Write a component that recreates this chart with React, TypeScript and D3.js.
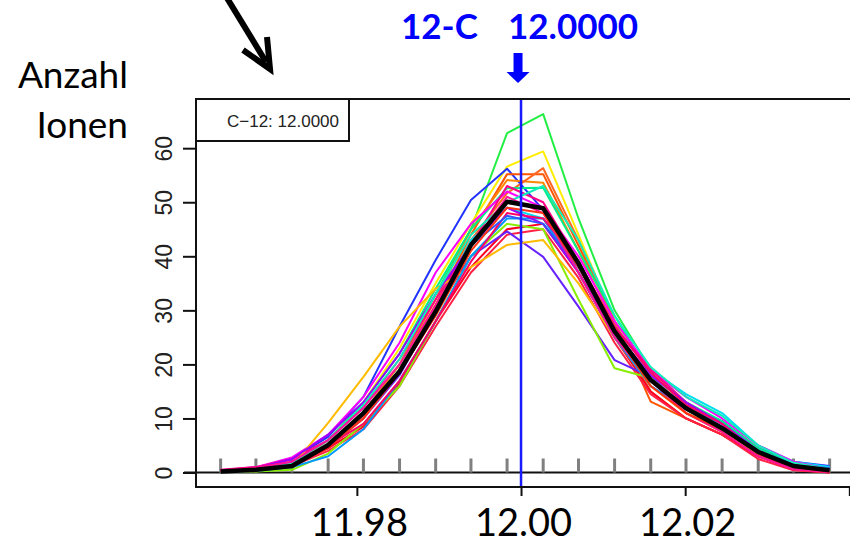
import React, { useEffect, useRef } from 'react';
import * as d3 from 'd3';

// m/z positions of the measured points
const mz = [
  11.9634, 11.9677, 11.9721, 11.9765, 11.9808, 11.9852, 11.9896, 11.9939, 11.9983,
  12.0027, 12.007, 12.0114, 12.0158, 12.0201, 12.0245, 12.0289, 12.0332, 12.0376,
];

const seriesColors = [
  '#22EE44', '#FFEE00', '#2233FF', '#FF5500', '#FF8800', '#FF6622', '#00EE88', '#00DDEE',
  '#FF00FF', '#FF0088', '#FF0022', '#FF2244', '#6622FF', '#88EE00', '#FFBB00', '#0099FF',
  '#9900FF', '#FF0066', '#3355FF', '#11EEBB', '#FF1199', '#FF3311',
];

const seriesValues = [
  [0.1, 0.3, 0.9, 4.8, 11, 20, 33, 45, 62.8, 66.3, 47, 30, 19, 13, 9, 4, 1.4, 0.4],
  [0.2, 0.5, 1.5, 6, 13, 23, 35, 46, 56.6, 59.4, 44, 28, 18, 12, 8.5, 4, 1.2, 0.3],
  [0.3, 0.8, 2.5, 6.6, 14, 27, 39.3, 50.4, 56.2, 48.6, 37, 25, 17, 12.5, 9.5, 4.5, 2, 1.2],
  [0.1, 0.4, 1.1, 4.5, 10, 19, 31, 44, 55.2, 55.2, 42, 28, 13.1, 10, 7, 3, 0.8, 0.2],
  [0.2, 0.5, 1.3, 5, 11, 20, 32, 45, 54.1, 53.6, 41, 27, 16, 11, 7.5, 3, 0.8, 0.2],
  [0.1, 0.3, 1, 4.5, 10.5, 19, 31, 43, 51.7, 56.3, 43, 27.5, 15, 10, 7, 3, 0.8, 0.1],
  [0.2, 0.6, 1.8, 6, 13, 22, 34, 45, 52.6, 52.7, 41, 29, 18, 13, 9.5, 4.5, 1.5, 0.6],
  [0.1, 0.4, 1.3, 5, 11, 19, 30, 43, 49, 47, 38, 27, 19, 14.5, 11, 5, 2, 1],
  [0.4, 1, 2.8, 7, 14, 24, 37, 46, 52, 49, 40, 28, 19, 14, 10, 5, 2, 0.6],
  [0.5, 1, 2.5, 6, 12, 21, 32, 42, 53, 50, 39, 27, 19, 13, 9, 4, 1.2, 0.3],
  [0.3, 0.6, 1.5, 4.5, 8.5, 16.5, 28, 38, 45, 46, 37, 25, 15, 10, 7, 3, 0.5, 0],
  [0.2, 0.5, 1.2, 4, 8, 16, 27, 37, 44, 45, 36, 24, 14.5, 10, 7, 2.5, 0.4, 0],
  [0.2, 0.5, 1.4, 5, 10, 18, 30, 40, 44.6, 39.9, 30.7, 20.8, 17.7, 12, 8, 3.5, 1.2, 0.5],
  [0.1, 0.2, 0.5, 3.5, 9, 16, 28, 40, 46, 45, 32, 19.3, 17.5, 12, 8, 3.5, 1, 0.2],
  [0.1, 0.3, 1.2, 9.2, 17.7, 27, 34, 38, 42.1, 43, 35, 25, 16, 11, 8, 3.5, 1, 0.2],
  [0.1, 0.3, 1, 3, 8, 17, 28, 40, 47, 47, 37, 25, 16, 12, 9, 4, 1.5, 0.6],
  [0.3, 0.8, 2.5, 7, 13, 22, 33, 42, 49, 46, 37, 26, 18, 13, 9, 4, 1.3, 0.4],
  [0.4, 0.9, 2, 5, 9, 17, 28, 39, 48, 47, 39, 27, 18.5, 12.5, 9, 3.5, 0.8, 0.1],
  [0.2, 0.5, 1.5, 5, 11, 19, 30, 42, 47.5, 46, 38, 26, 17, 12, 8.5, 4, 1.5, 0.8],
  [0.2, 0.6, 1.7, 6, 12.5, 21, 33, 44, 50, 53, 43, 29, 19.5, 14, 10.5, 5, 1.8, 0.6],
  [0.3, 0.8, 2, 6, 12, 20, 31, 42, 51, 48, 37, 25, 17, 11, 7.5, 3, 0.6, 0.1],
  [0.2, 0.5, 1.3, 5, 10, 18.5, 29, 41, 49, 48, 38, 26, 16, 11, 8, 3.5, 1, 0.2],
];

// averaged profile (thick black line)
const meanValues = [0.2, 0.5, 1.2, 5.1, 11.0, 18.7, 29.8, 42.1, 50.1, 48.9, 38.7, 26.1, 17.1, 11.9, 8.2, 3.8, 1.2, 0.4];

const yTicks = [0, 10, 20, 30, 40, 50, 60];
const xTicks = [11.98, 12.0, 12.02, 12.04];
const xTickLabels = ['11.98', '12.00', '12.02', ''];
const refMass = 12.0;

const App = () => {
  const ref = useRef<SVGSVGElement | null>(null);

  useEffect(() => {
    const svg = d3.select(ref.current);
    svg.selectAll('*').remove();

    const left = 196,
      top = 99,
      bottom = 487,
      right = 860;

    const x = d3.scaleLinear().domain([11.9604, 12.0413]).range([left, right]);
    const y = d3.scaleLinear().domain([-2.68, 69.1]).range([bottom, top]);

    const calibri = 'Lato, "Open Sans", sans-serif';
    const arial = '"Liberation Sans", Arial, sans-serif';

    // titles
    svg.append('text').attr('x', 128).attr('y', 88).attr('text-anchor', 'end')
      .attr('font-family', calibri).attr('font-size', 37).text('Anzahl');
    svg.append('text').attr('x', 128).attr('y', 138).attr('text-anchor', 'end')
      .attr('font-family', calibri).attr('font-size', 37).text('Ionen');

    // black arrow at top
    svg.append('path')
      .attr('d', 'M227,-2 L266,62')
      .attr('fill', 'none').attr('stroke', '#000').attr('stroke-width', 6);
    svg.append('path')
      .attr('d', 'M243,50 L270,69 L267,37')
      .attr('fill', 'none').attr('stroke', '#000').attr('stroke-width', 6)
      .attr('stroke-linejoin', 'miter');

    svg.append('text').attr('x', 401).attr('y', 39)
      .attr('font-family', calibri).attr('font-weight', 'bold').attr('font-size', 35)
      .attr('fill', '#0000FF').text('12-C');
    svg.append('text').attr('x', 508).attr('y', 39)
      .attr('font-family', calibri).attr('font-weight', 'bold').attr('font-size', 35)
      .attr('fill', '#0000FF').text('12.0000');

    // blue down arrow
    const ax = x(refMass) - 3;
    svg.append('path')
      .attr('d', `M${ax - 4.5},53 H${ax + 4.5} V72 H${ax + 11.5} L${ax},83 L${ax - 11.5},72 H${ax - 4.5} Z`)
      .attr('fill', '#0000FF');

    const g = svg.append('g');

    // y axis
    const yAxis = g.append('g').attr('transform', `translate(${left},0)`)
      .call(d3.axisLeft(y).tickValues(yTicks).tickSize(13).tickPadding(8));
    yAxis.select('.domain').remove();
    yAxis.selectAll('line').attr('stroke', '#111').attr('stroke-width', 2);
    yAxis.selectAll('text')
      .attr('font-family', arial).attr('font-size', 23).attr('fill', '#222')
      .attr('text-anchor', 'middle')
      .attr('transform', `translate(${172 - left},0) rotate(-90)`)
      .attr('x', 0).attr('y', 0).attr('dy', 0);

    // x axis
    const xAxis = g.append('g').attr('transform', `translate(0,${bottom})`)
      .call(d3.axisBottom(x).tickValues(xTicks).tickSize(9)
        .tickFormat((d, i) => xTickLabels[i]));
    xAxis.select('.domain').remove();
    xAxis.selectAll('line').attr('stroke', '#111').attr('stroke-width', 2);
    xAxis.selectAll('text')
      .attr('font-family', calibri).attr('font-size', 38).attr('fill', '#000')
      .attr('y', 49).attr('dy', 0).attr('dx', 2);

    // zero line and gray marks at measured positions
    g.append('line').attr('x1', left - 12).attr('x2', right)
      .attr('y1', y(0)).attr('y2', y(0)).attr('stroke', '#111').attr('stroke-width', 2);
    g.selectAll('.mark').data(mz).enter().append('line')
      .attr('x1', (d) => x(d)).attr('x2', (d) => x(d))
      .attr('y1', y(0)).attr('y2', y(0) - 14)
      .attr('stroke', '#808080').attr('stroke-width', 3);

    const line = d3.line<number>()
      .x((d, i) => x(mz[i]))
      .y((d) => y(d));

    g.selectAll('.series').data(seriesValues).enter().append('path')
      .attr('fill', 'none')
      .attr('stroke', (d, i) => seriesColors[i])
      .attr('stroke-width', 2)
      .attr('stroke-linejoin', 'round')
      .attr('d', (d) => line(d));

    g.append('path').datum(meanValues)
      .attr('fill', 'none').attr('stroke', '#000').attr('stroke-width', 4.5)
      .attr('stroke-linejoin', 'round')
      .attr('d', line);

    // reference mass line
    g.append('line').attr('x1', x(refMass)).attr('x2', x(refMass))
      .attr('y1', top).attr('y2', bottom)
      .attr('stroke', '#1a1aff').attr('stroke-width', 2.5);

    // plot frame
    g.append('rect').attr('x', left).attr('y', top)
      .attr('width', right - left).attr('height', bottom - top)
      .attr('fill', 'none').attr('stroke', '#111').attr('stroke-width', 2);

    // legend
    g.append('rect').attr('x', left).attr('y', top).attr('width', 153).attr('height', 42)
      .attr('fill', '#fff').attr('stroke', '#111').attr('stroke-width', 2);
    g.append('text').attr('x', 227).attr('y', 127)
      .attr('font-family', arial).attr('font-size', 17).attr('fill', '#222')
      .text('C\u221212: 12.0000');
  }, []);

  return (
    <svg
      ref={ref}
      width={850}
      height={547}
      style={{ position: 'absolute', left: 0, top: 0, background: '#fff' }}
    />
  );
};

export default App;
